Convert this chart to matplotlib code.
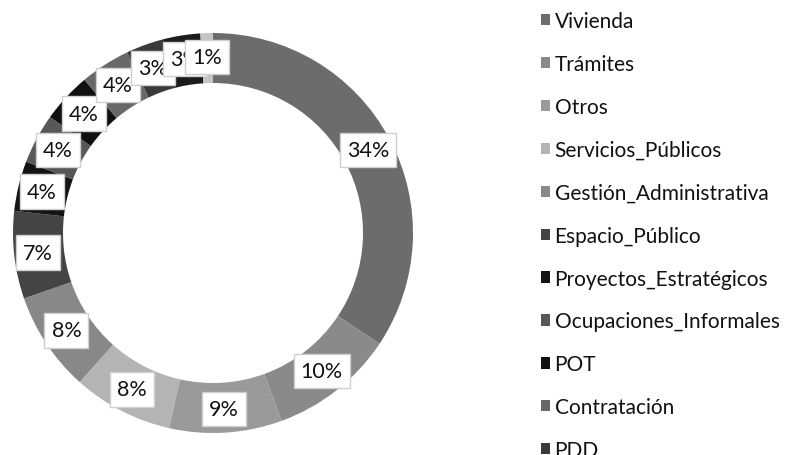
import numpy as np
import matplotlib.pyplot as plt
from matplotlib.patches import Patch

# Slices, clockwise from 12 o'clock (last two have no visible legend entry)
categories = ['Vivienda', 'Trámites', 'Otros', 'Servicios_Públicos',
              'Gestión_Administrativa', 'Espacio_Público', 'Proyectos_Estratégicos',
              'Ocupaciones_Informales', 'POT', 'Contratación', 'PDD', '', '']
values = [34, 10, 9, 8, 8, 7, 4, 4, 4, 4, 3, 3, 1]
colors = ['#6c6c6c', '#8a8a8a', '#9a9a9a', '#b4b4b4', '#888888', '#444444',
          '#141414', '#585858', '#101010', '#686868', '#3a3a3a', '#1c1c1c', '#c4c4c4']
n_legend = 11

plt.rcParams['font.family'] = ['Lato', 'DejaVu Sans']

fig = plt.figure(figsize=(7.88, 4.56), dpi=100)
ax = fig.add_axes([13 / 788, 22 / 456, 400 / 788, 400 / 456])

wedges, _ = ax.pie(values, startangle=90, counterclock=False, colors=colors,
                   radius=1.0, wedgeprops=dict(width=0.25, linewidth=0))

# percentage labels in white boxes on the ring
total = sum(values)
start = 90.0
for v in values:
    ang = np.deg2rad(start - 360.0 * v / total / 2)
    start -= 360.0 * v / total
    r = 0.88
    ax.text(r * np.cos(ang), r * np.sin(ang), f'{v}%', ha='center', va='center',
            fontsize=15.5, color='#111111',
            bbox=dict(boxstyle='square,pad=0.33', fc='white', ec='#cfcfcf', lw=1))

ax.set_xlim(-1, 1)
ax.set_ylim(-1, 1)
ax.set_aspect('equal')
ax.axis('off')

handles = [Patch(facecolor=colors[i], edgecolor='none') for i in range(n_legend)]
leg = fig.legend(handles, categories[:n_legend], loc='upper left',
                 bbox_to_anchor=(541 / 788, 1 - 12 / 456), frameon=False,
                 fontsize=15, handlelength=0.45, handleheight=0.45, handletextpad=0.2,
                 labelspacing=1.1, borderaxespad=0, borderpad=0)
for t in leg.get_texts():
    t.set_color('#111111')

fig.savefig('out.png', dpi=100)
